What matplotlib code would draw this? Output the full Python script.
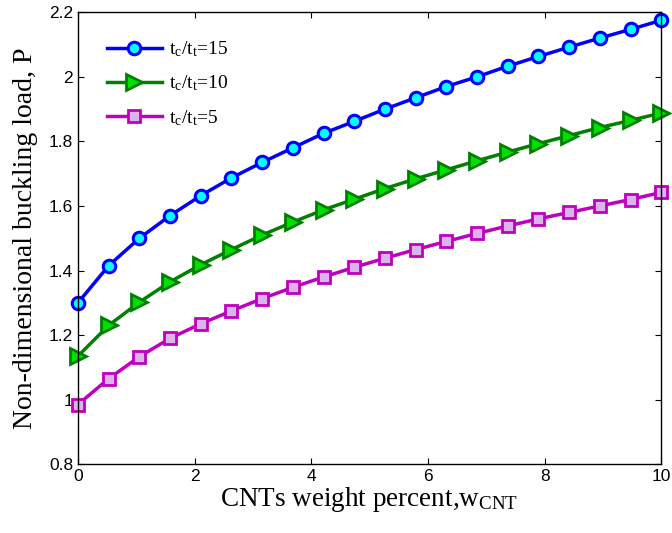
import matplotlib
matplotlib.use("Agg")
import matplotlib.pyplot as plt
from matplotlib.ticker import FuncFormatter, MultipleLocator

plt.rcParams['mathtext.fontset'] = 'custom'
plt.rcParams['mathtext.rm'] = 'Liberation Serif'
plt.rcParams['mathtext.it'] = 'Liberation Serif'

# CNT weight percent (20 equally spaced points)
w_cnt = [0.0, 0.526, 1.053, 1.579, 2.105, 2.632, 3.158, 3.684, 4.211, 4.737,
         5.263, 5.789, 6.316, 6.842, 7.368, 7.895, 8.421, 8.947, 9.474, 10.0]

# buckling load for each core/face thickness ratio
p_15 = [1.300, 1.415, 1.500, 1.570, 1.632, 1.687, 1.735, 1.780, 1.825, 1.862,
        1.900, 1.935, 1.970, 2.000, 2.033, 2.063, 2.092, 2.120, 2.147, 2.175]
p_10 = [1.135, 1.230, 1.302, 1.365, 1.418, 1.465, 1.510, 1.550, 1.588, 1.621,
        1.654, 1.684, 1.712, 1.740, 1.767, 1.793, 1.818, 1.843, 1.865, 1.888]
p_5 = [0.985, 1.065, 1.133, 1.190, 1.235, 1.275, 1.313, 1.348, 1.380, 1.410,
       1.438, 1.465, 1.490, 1.515, 1.538, 1.560, 1.580, 1.600, 1.620, 1.642]

labels = [r'$\mathrm{t_c/t_t}$=15', r'$\mathrm{t_c/t_t}$=10', r'$\mathrm{t_c/t_t}$=5']

fig = plt.figure(figsize=(6.72, 5.33), dpi=100)
ax = fig.add_axes([0.116, 0.129, 0.868, 0.848])

ax.plot(w_cnt, p_15, color='#0000ff', lw=2.5, marker='o', ms=9,
        mfc='#00ffff', mec='#0000ff', mew=2.2, label=labels[0], clip_on=False)
ax.plot(w_cnt, p_10, color='#008000', lw=2.5, marker='>', ms=11,
        mfc='#00e000', mec='#008000', mew=2.0, label=labels[1], clip_on=False)
ax.plot(w_cnt, p_5, color='#bf00bf', lw=2.5, marker='s', ms=8,
        mfc='#dcb4ec', mec='#bf00bf', mew=2.0, label=labels[2], clip_on=False)

ax.set_xlim(0, 10)
ax.set_ylim(0.8, 2.2)
ax.xaxis.set_major_locator(MultipleLocator(2))
ax.yaxis.set_major_locator(MultipleLocator(0.2))
ax.yaxis.set_major_formatter(FuncFormatter(lambda v, p: '%g' % round(v, 2)))
ax.tick_params(direction='in', top=True, right=True, length=4, width=0.8,
               labelsize=12.5)
for lab in ax.get_xticklabels() + ax.get_yticklabels():
    lab.set_family('Liberation Sans')
for sp in ax.spines.values():
    sp.set_linewidth(1.0)

ax.set_xlabel(r'CNTs weight percent,w$_{\mathrm{CNT}}$', family='Liberation Serif',
              fontsize=19.5, labelpad=1)
ax.set_ylabel('Non-dimensional buckling load, P', family='Liberation Serif',
              fontsize=20, labelpad=8)

leg = ax.legend(loc='upper left', frameon=False, handlelength=2.8,
                handletextpad=0.4, borderpad=0, borderaxespad=0,
                prop={'family': 'Liberation Serif', 'size': 14},
                bbox_to_anchor=(0.05, 0.94), labelspacing=0.75)

fig.savefig('out.png', dpi=100)
